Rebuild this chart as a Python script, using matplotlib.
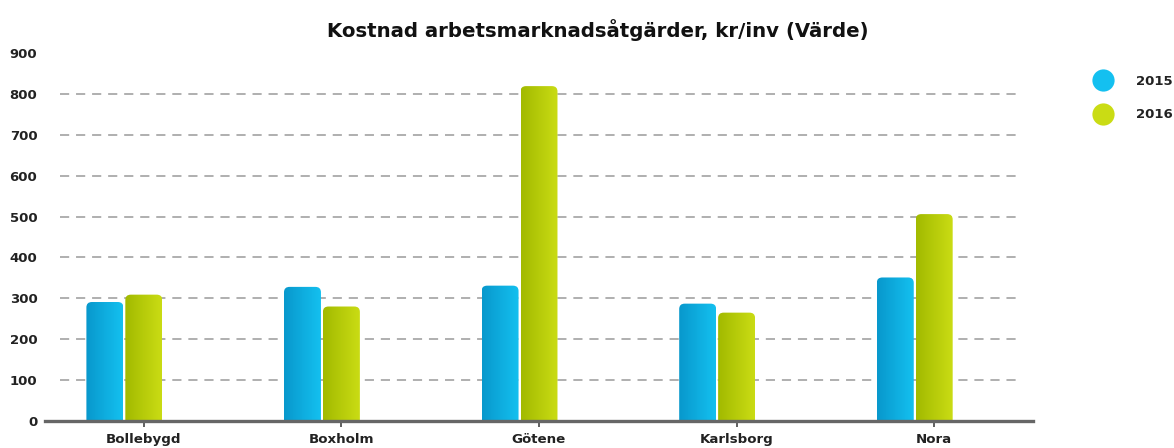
import matplotlib
matplotlib.use("Agg")
import matplotlib.pyplot as plt
import numpy as np
from matplotlib.patches import FancyBboxPatch
from matplotlib.lines import Line2D
from matplotlib.colors import LinearSegmentedColormap

categories = ["Bollebygd", "Boxholm", "Götene", "Karlsborg", "Nora"]
years = ["2015", "2016"]
values_2015 = [291, 328, 331, 287, 351]
values_2016 = [309, 280, 819, 265, 506]
yticks = [0, 100, 200, 300, 400, 500, 600, 700, 800, 900]

col_2015 = ("#0898cc", "#14c0f0")
col_2016 = ("#a2ba00", "#cadc14")

fig = plt.figure(figsize=(11.74, 4.48), dpi=100)
ax = fig.add_axes([45/1174, 27/448, 988/1174, 368/448])

x = np.arange(len(categories))
w = 0.187
ax.set_xlim(-0.5, 4.5)
ax.set_ylim(0, 900)

# dashed grid lines
for v in yticks[1:-1]:
    ax.plot([-0.425, 4.44], [v, v], ls=(0, (6, 4.5)), color="#9a9a9a", lw=1.1, zorder=1)

def grad_bar(xc, h, cols):
    x0 = xc - w/2
    patch = FancyBboxPatch((x0, -30), w, h + 30,
                           boxstyle="round,pad=0,rounding_size=0.028",
                           mutation_aspect=470, linewidth=0, facecolor="none",
                           zorder=2)
    ax.add_patch(patch)
    cmap = LinearSegmentedColormap.from_list("g", list(cols))
    img = ax.imshow(np.linspace(0, 1, 64).reshape(1, -1), cmap=cmap,
                    extent=[x0, x0 + w, 0, h], aspect="auto", zorder=2,
                    interpolation="bilinear")
    img.set_clip_path(patch)

for i in range(len(categories)):
    grad_bar(x[i] - 0.197, values_2015[i], col_2015)
    grad_bar(x[i], values_2016[i], col_2016)

ax.set_xlim(-0.5, 4.5)
ax.set_ylim(0, 900)

for s in ["top", "right", "left"]:
    ax.spines[s].set_visible(False)
ax.spines["bottom"].set_color("#666666")
ax.spines["bottom"].set_linewidth(2.4)
ax.spines["bottom"].set_zorder(5)

ax.set_xticks(x)
ax.set_xticklabels(categories, fontsize=9.6, fontweight="bold", color="#222222")
ax.tick_params(axis="x", length=4, width=1.2, color="#444444", pad=4.5)
ax.set_yticks(yticks)
ax.set_yticklabels([str(v) for v in yticks], fontsize=9.5, fontweight="bold", color="#222222")
ax.tick_params(axis="y", length=0, pad=5.5)

fig.text(0.509, 1 - 30/448, "Kostnad arbetsmarknadsåtgärder, kr/inv (Värde)",
         ha="center", va="center", fontsize=14.2, fontweight="bold", color="#111111")

handles = [Line2D([], [], marker="o", ls="none", markersize=16, color=col_2015[1], markeredgewidth=0),
           Line2D([], [], marker="o", ls="none", markersize=16, color=col_2016[1], markeredgewidth=0)]
leg = fig.legend(handles, years, loc="upper left", bbox_to_anchor=(1085/1174, 1 - 63/448),
                 frameon=False, handlelength=1.0, handletextpad=2.0, labelspacing=1.55,
                 prop={"size": 9.5, "weight": "bold"})
for t in leg.get_texts():
    t.set_color("#222222")

fig.savefig("out.png", dpi=100)
